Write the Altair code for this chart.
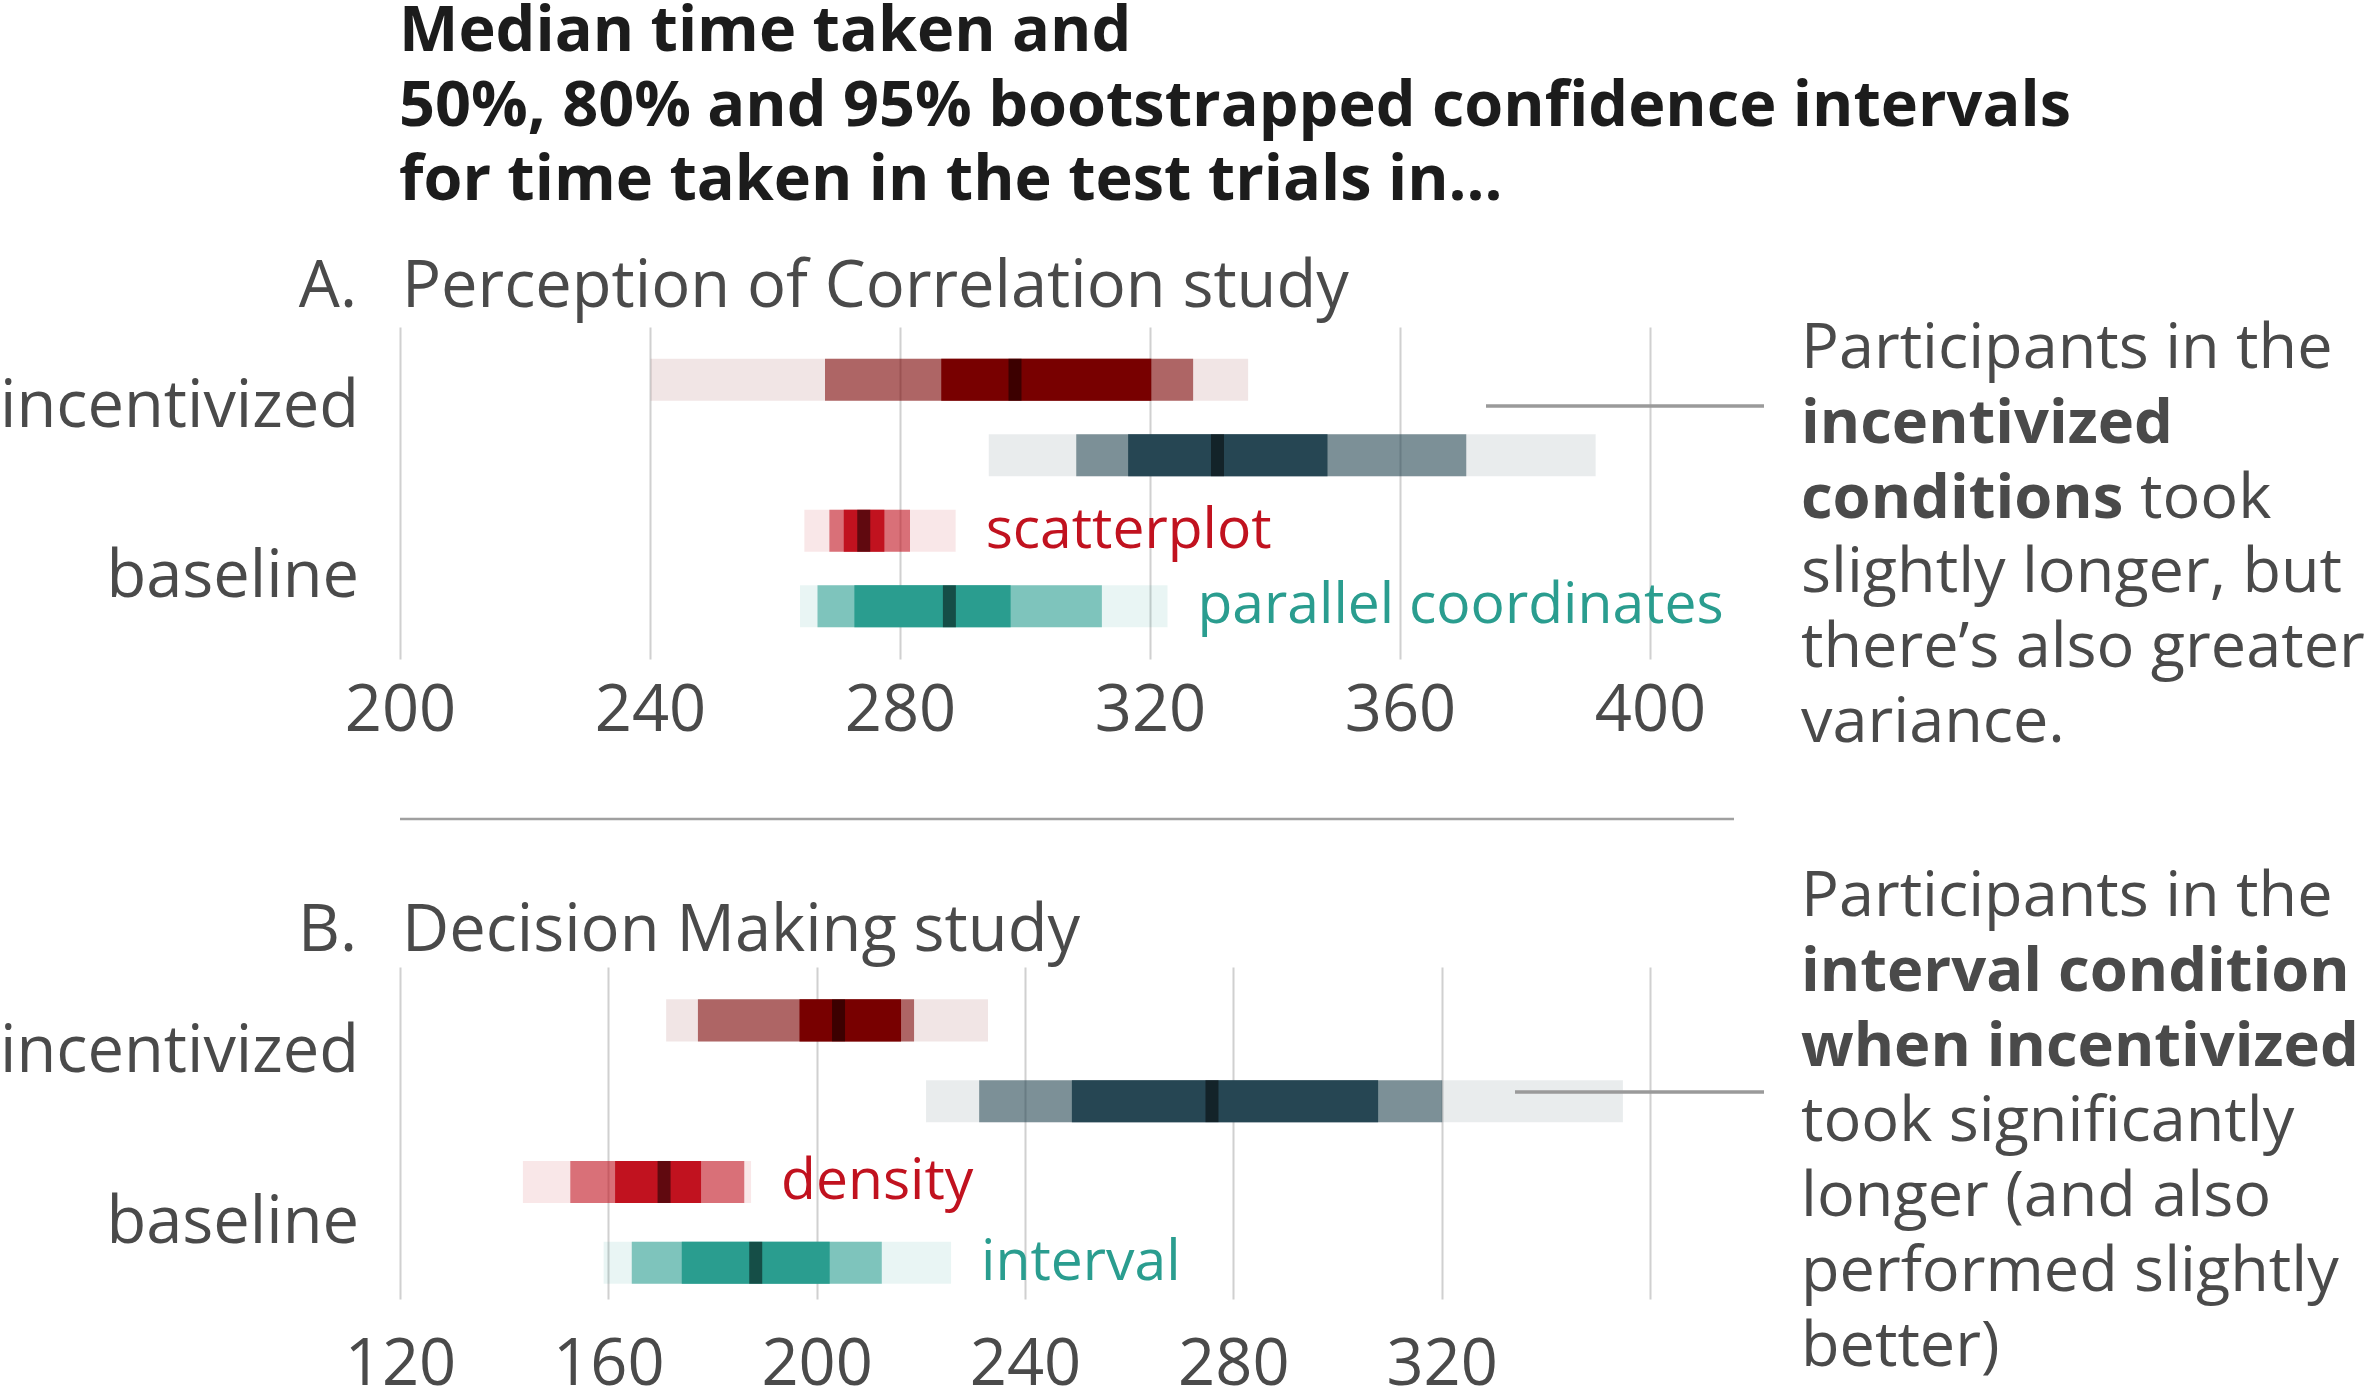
import altair as alt
import pandas as pd

FONT = "Open Sans"
GRAY = "#4a4a4a"
BLACK = "#1c1c1c"

# ---------------- data: panel A (Perception of Correlation study) ----------------
a_rows = ["incentivized scatterplot", "incentivized parallel coordinates",
          "baseline scatterplot", "baseline parallel coordinates"]
a_colors = ["#780000", "#264653", "#c1121f", "#2a9d8f"]
a_lo95 = [240.1, 294.2, 264.7, 264.0]
a_hi95 = [335.7, 391.3, 288.9, 322.8]
a_lo80 = [268.0, 308.2, 268.7, 266.8]
a_hi80 = [326.9, 370.6, 281.6, 312.3]
a_lo50 = [286.6, 316.5, 271.0, 272.7]
a_hi50 = [320.2, 348.4, 277.5, 297.7]
a_median = [298.4, 330.8, 274.2, 287.9]
a_labels = ["", "", "scatterplot", "parallel coordinates"]
a_ticks = [200, 240, 280, 320, 360, 400]

# ---------------- data: panel B (Decision Making study) ----------------
b_rows = ["incentivized density", "incentivized interval",
          "baseline density", "baseline interval"]
b_colors = ["#780000", "#264653", "#c1121f", "#2a9d8f"]
b_lo95 = [171.1, 221.0, 143.6, 159.1]
b_hi95 = [232.9, 354.8, 187.4, 225.8]
b_lo80 = [177.2, 231.2, 152.7, 164.5]
b_hi80 = [218.7, 320.1, 186.1, 212.5]
b_lo50 = [196.7, 249.0, 161.3, 174.1]
b_hi50 = [216.2, 307.8, 177.8, 202.5]
b_median = [204.2, 275.9, 170.7, 188.3]
b_labels = ["", "", "density", "interval"]
b_ticks = [120, 160, 200, 240, 280, 320, 360]

levels = ["95%", "80%", "50%"]
level_opacity = {"95%": 0.1, "80%": 0.556, "50%": 1.0}

one = pd.DataFrame({"k": [0]})


def intervals(rows, lo95, hi95, lo80, hi80, lo50, hi50):
    recs = []
    for level, lo, hi in (("95%", lo95, hi95), ("80%", lo80, hi80), ("50%", lo50, hi50)):
        for r, l, h in zip(rows, lo, hi):
            recs.append({"row": r, "level": level, "lo": l, "hi": h})
    return pd.DataFrame(recs)


def txt(text, x, y, size, color=GRAY, weight="normal", align="left"):
    return alt.Chart(one).mark_text(
        text=text, align=align, baseline="alphabetic", fontSize=size,
        fontWeight=weight, color=color, font=FONT
    ).encode(x=alt.value(x), y=alt.value(y))


def hline(x0, x1, y, color, width):
    return alt.Chart(one).mark_rule(color=color, strokeWidth=width).encode(
        x=alt.value(x0), x2=alt.value(x1), y=alt.value(y)
    )


def panel(rows, colors, iv, med, labels, hi95, domain, ticks, label_pad,
          y_pad_inner, y_pad_outer, y_align, label_expr=None):
    xs = alt.Scale(domain=domain, nice=False, zero=False)
    ys = alt.Scale(domain=rows, paddingInner=y_pad_inner, paddingOuter=y_pad_outer, align=y_align)
    cs = alt.Scale(domain=rows, range=colors)
    axis_kw = dict(values=ticks, grid=True, gridColor="#d0d0d0", gridWidth=2, domain=False,
                   ticks=False, tickSize=0, labelFontSize=65, labelColor=GRAY, labelFont=FONT,
                   labelPadding=label_pad, labelFlush=False, labelOverlap=False, title=None)
    if label_expr:
        axis_kw["labelExpr"] = label_expr
    xaxis = alt.Axis(**axis_kw)
    out = []
    for lev in levels:
        out.append(
            alt.Chart(iv).transform_filter(alt.datum.level == lev)
            .mark_bar(opacity=level_opacity[lev])
            .encode(
                x=alt.X("lo:Q", scale=xs, axis=xaxis),
                x2="hi:Q",
                y=alt.Y("row:N", scale=ys, axis=None),
                color=alt.Color("row:N", scale=cs, legend=None),
            )
        )
    med_df = pd.DataFrame({"row": rows, "median": med})
    out.append(
        alt.Chart(med_df).mark_tick(color="black", opacity=0.5, thickness=13, size=42).encode(
            x=alt.X("median:Q", scale=xs, axis=xaxis),
            y=alt.Y("row:N", scale=ys, axis=None),
        )
    )
    lab_df = pd.DataFrame({"row": rows, "label": labels, "hi95": hi95})
    lab_df = lab_df[lab_df["label"] != ""]
    out.append(
        alt.Chart(lab_df).mark_text(align="left", baseline="middle", dx=30, fontSize=57,
                                    font=FONT).encode(
            x=alt.X("hi95:Q", scale=xs, axis=xaxis),
            y=alt.Y("row:N", scale=ys, axis=None),
            text="label:N",
            color=alt.Color("row:N", scale=cs, legend=None),
        )
    )
    return out


iv_a = intervals(a_rows, a_lo95, a_hi95, a_lo80, a_hi80, a_lo50, a_hi50)
iv_b = intervals(b_rows, b_lo95, b_hi95, b_lo80, b_hi80, b_lo50, b_hi50)

layers_a = panel(a_rows, a_colors, iv_a, a_median, a_labels, a_hi95, [200, 400], a_ticks, 20,
                 0.444, 0.42, 0.5)
layers_a += [
    # anchor for the page origin (white, invisible)
    hline(-399, -398, -326, "white", 1),
    # main title
    txt("Median time taken and", -1, -276, 63, BLACK, "bold"),
    txt("50%, 80% and 95% bootstrapped confidence intervals", -1, -201, 63, BLACK, "bold"),
    txt("for time taken in the test trials in...", -1, -127, 63, BLACK, "bold"),
    # section title
    txt("A.", -43, -20, 65, GRAY, "normal", "right"),
    txt("Perception of Correlation study", 2, -20, 65),
    # group labels
    txt("incentivized", -41, 100, 65, GRAY, "normal", "right"),
    txt("baseline", -41, 270, 65, GRAY, "normal", "right"),
    # annotation
    hline(1086, 1364, 79, "#9a9a9a", 3.5),
    txt("Participants in the", 1401, 41, 63),
    txt("incentivized", 1401, 116, 61.5, GRAY, "bold"),
    txt("conditions", 1401, 191, 61.5, GRAY, "bold"),
    txt("took", 1740, 191, 63),
    txt("slightly longer, but", 1401, 265, 63),
    txt("there\u2019s also greater", 1401, 340, 63),
    txt("variance.", 1401, 415, 63),
    # separator between panels
    hline(0, 1334, 492, "#a0a0a0", 2.5),
]
panel_a = alt.layer(*layers_a).properties(width=1250, height=332)

layers_b = panel(b_rows, b_colors, iv_b, b_median, b_labels, b_hi95, [120, 360], b_ticks, 34,
                 0.48, 0.2945, 0.68, "datum.value > 340 ? '' : datum.label")
layers_b += [
    txt("B.", -43, -16, 65, GRAY, "normal", "right"),
    txt("Decision Making study", 2, -16, 65),
    txt("incentivized", -41, 105, 65, GRAY, "normal", "right"),
    txt("baseline", -41, 276, 65, GRAY, "normal", "right"),
    hline(1115, 1364, 125, "#9a9a9a", 3.5),
    txt("Participants in the", 1401, -51, 63),
    txt("interval condition", 1401, 24, 61.5, GRAY, "bold"),
    txt("when incentivized", 1401, 99, 61.5, GRAY, "bold"),
    txt("took significantly", 1401, 174, 63),
    txt("longer (and also", 1401, 249, 63),
    txt("performed slightly", 1401, 324, 63),
    txt("better)", 1401, 399, 63),
]
panel_b = alt.layer(*layers_b).properties(width=1250, height=332)

chart = alt.vconcat(panel_a, panel_b, spacing=308, bounds="flush").resolve_scale(
    x="independent", y="independent", color="independent"
).properties(padding=0).configure(
    font=FONT, background="white", view=alt.ViewConfig(stroke=None)
)

chart.save("out.html", embed_options={"renderer": "svg", "actions": False})
